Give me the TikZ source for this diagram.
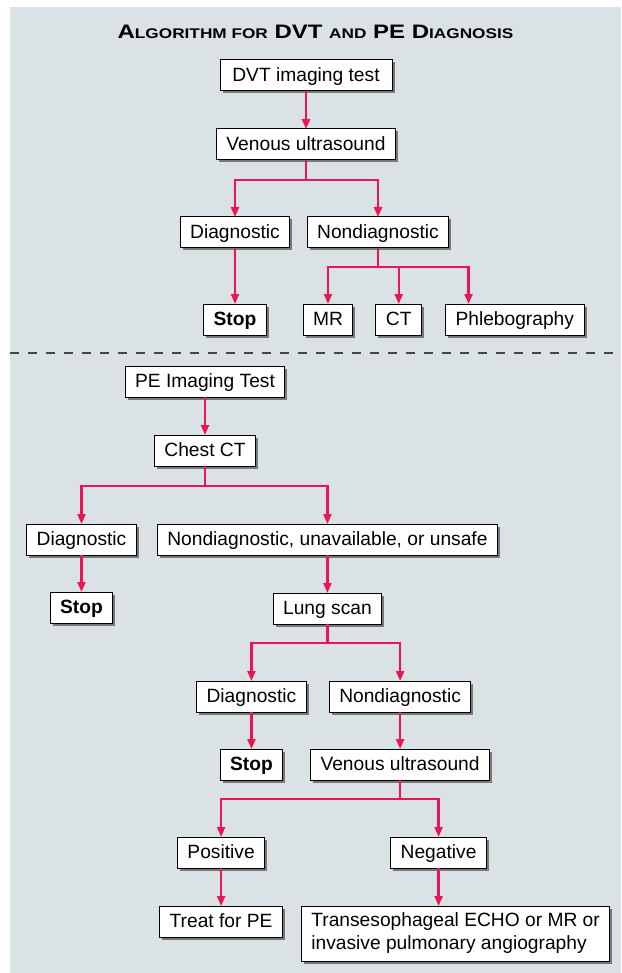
\documentclass[tikz,border=0pt]{standalone}
\usepackage{fontspec}
\setmainfont{Liberation Sans}
\newfontfamily\titlefont{Liberation Sans}[FakeStretch=1.23]
\usepackage{tikz}
\usetikzlibrary{
  arrows.meta,
  positioning,
  shadows
}
\definecolor{panelgray}{RGB}{218,226,230}
\definecolor{arrowred}{RGB}{232,22,82}
\definecolor{shadowgray}{RGB}{120,120,120}
\definecolor{dashgray}{RGB}{70,70,70}
\newcommand{\smallcap}[1]{{\fontsize{14}{17}\selectfont #1}}

\begin{document}
\begin{tikzpicture}[
  x=1pt,y=1pt,
  boxbase/.style={draw,line width=1pt,fill=white,inner xsep=10pt,inner ysep=5pt,
                  outer sep=0pt,font=\fontsize{19.2}{23}\selectfont,
                  drop shadow={fill=shadowgray,opacity=1,shadow xshift=2.5pt,shadow yshift=-2.5pt}},
  box/.style={boxbase,minimum height=31pt,text height=16pt,text depth=4pt},
  tallbox/.style={boxbase,align=left,minimum height=55pt},
  arr/.style={-{Triangle[length=10pt,width=8pt]},draw=arrowred,line width=2.2pt},
  divider/.style={draw=dashgray,line width=1.3pt,dash pattern=on 9pt off 9pt},
]
\useasboundingbox (0,0) rectangle (621,-973);
\fill[panelgray] (10,-7) rectangle (621,-973);

\node[font=\titlefont\bfseries\fontsize{19.5}{22}\selectfont] (title) at (315.5,-32)
  {A\smallcap{LGORITHM FOR} DVT \smallcap{AND} PE D\smallcap{IAGNOSIS}};

% DVT part
\node[box,minimum width=172pt] (dvt) at (306,-75.5) {DVT imaging test};
\node[box,below=38pt of dvt]   (vus1)  {Venous ultrasound};
\node[box,below=57pt of vus1,xshift=-71pt] (diag1) {Diagnostic};
\node[box,below=57pt of vus1,xshift=72pt]  (nond1) {Nondiagnostic};
\node[box,below=56pt of diag1] (stop1) {\textbf{Stop}};
\node[box,below=56pt of nond1,xshift=-50pt] (mr) {MR};
\node[box,right=23pt of mr]    (ct)    {CT};
\node[box,right=24pt of ct]    (phleb) {Phlebography};
\coordinate (phlebin) at ([xshift=23pt]phleb.north west);

\draw[arr] (dvt) -- (vus1);
\draw[arr] (vus1.south) -- ++(0,-20pt) -| (diag1.north);
\draw[arr] (vus1.south) -- ++(0,-20pt) -| (nond1.north);
\draw[arr] (diag1) -- (stop1);
\draw[arr] (nond1.south) -- ++(0,-19pt) -| (mr.north);
\draw[arr] (nond1.south) -- ++(0,-19pt) -| (ct.north);
\draw[arr] (nond1.south) -- ++(0,-19pt) -| (phlebin);

\draw[divider] (10,-353) -- (621,-353);

% PE part
\node[box] (pe) at (205,-381.5) {PE Imaging Test};
\node[box,below=38pt of pe]    (chest) {Chest CT};
\node[box,below=58pt of chest,xshift=-123.5pt] (diag2) {Diagnostic};
\node[box,right=21pt of diag2] (nond2) {Nondiagnostic, unavailable, or unsafe};
\node[box,below=37pt of diag2] (stop2) {\textbf{Stop}};
\node[box,below=38pt of nond2] (lung)  {Lung scan};
\node[box,below=57pt of lung,xshift=-76pt] (diag3) {Diagnostic};
\node[box,right=23pt of diag3] (nond3) {Nondiagnostic};
\node[box,below=37pt of diag3] (stop3) {\textbf{Stop}};
\node[box,below=37pt of nond3] (vus2)  {Venous ultrasound};
\node[box,below=57pt of vus2,xshift=-179pt] (pos) {Positive};
\node[box,below=57pt of vus2,xshift=38.5pt] (neg) {Negative};
\node[box,below=38pt of pos]   (treat) {Treat for PE};
\node[tallbox,inner ysep=6pt,below=38pt of neg,xshift=17pt] (tee)
  {Transesophageal ECHO or MR or\\invasive pulmonary angiography};

\draw[arr] (pe) -- (chest);
\draw[arr] (chest.south) -- ++(0,-20pt) -| (diag2.north);
\draw[arr] (chest.south) -- ++(0,-20pt) -| (nond2.north);
\draw[arr] (diag2) -- (stop2);
\draw[arr] (nond2) -- (lung);
\draw[arr] (lung.south) -- ++(0,-19pt) -| (diag3.north);
\draw[arr] (lung.south) -- ++(0,-19pt) -| (nond3.north);
\draw[arr] (diag3) -- (stop3);
\draw[arr] (nond3) -- (vus2);
\draw[arr] (vus2.south) -- ++(0,-19pt) -| (pos.north);
\draw[arr] (vus2.south) -- ++(0,-19pt) -| (neg.north);
\draw[arr] (pos) -- (treat);
\draw[arr] (neg.south) -- (neg.south |- tee.north);
\end{tikzpicture}
\end{document}
